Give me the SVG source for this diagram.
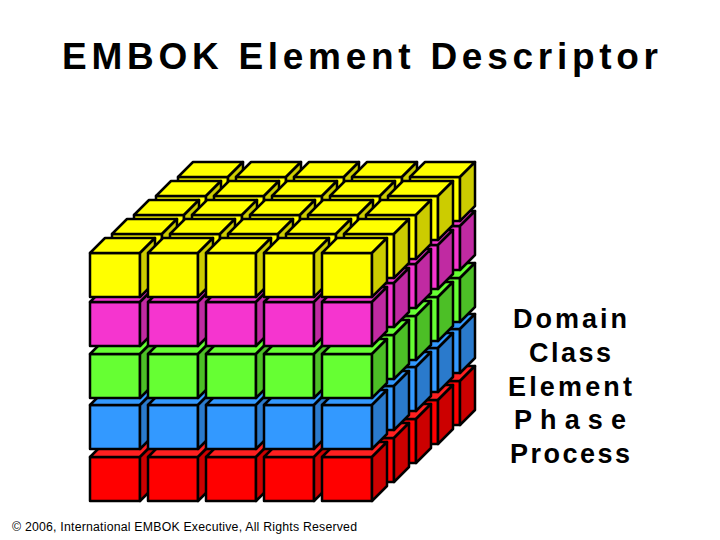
<svg xmlns="http://www.w3.org/2000/svg" width="720" height="540" viewBox="0 0 720 540">
<style>
.c{stroke:#000;stroke-width:2.5;stroke-linejoin:round}
.t{font-family:"Liberation Sans",Arial,sans-serif;font-weight:bold;text-anchor:middle}
</style>
<defs>
<g id="cy" class="c"><rect width="50" height="44" fill="#FFFF00"/><polygon points="0,0 15,-15 65,-15 50,0" fill="#FFFF00"/><polygon points="50,0 65,-15 65,29 50,44" fill="#CCCC00"/></g>
<g id="cm" class="c"><rect width="50" height="44" fill="#F535CF"/><polygon points="0,0 15,-15 65,-15 50,0" fill="#F535CF"/><polygon points="50,0 65,-15 65,29 50,44" fill="#C02AA2"/></g>
<g id="cg" class="c"><rect width="50" height="44" fill="#66FF33"/><polygon points="0,0 15,-15 65,-15 50,0" fill="#66FF33"/><polygon points="50,0 65,-15 65,29 50,44" fill="#4CBF26"/></g>
<g id="cb" class="c"><rect width="50" height="44" fill="#3399FF"/><polygon points="0,0 15,-15 65,-15 50,0" fill="#3399FF"/><polygon points="50,0 65,-15 65,29 50,44" fill="#2A7ACC"/></g>
<g id="cr" class="c"><rect width="50" height="44" fill="#FF0000"/><polygon points="0,0 15,-15 65,-15 50,0" fill="#FF2020"/><polygon points="50,0 65,-15 65,29 50,44" fill="#CC0000"/></g>
<g id="ry"><use href="#cy"/><use href="#cy" x="58"/><use href="#cy" x="116"/><use href="#cy" x="174"/><use href="#cy" x="232"/></g>
<g id="rm"><use href="#cm"/><use href="#cm" x="58"/><use href="#cm" x="116"/><use href="#cm" x="174"/><use href="#cm" x="232"/></g>
<g id="rg"><use href="#cg"/><use href="#cg" x="58"/><use href="#cg" x="116"/><use href="#cg" x="174"/><use href="#cg" x="232"/></g>
<g id="rb"><use href="#cb"/><use href="#cb" x="58"/><use href="#cb" x="116"/><use href="#cb" x="174"/><use href="#cb" x="232"/></g>
<g id="rr"><use href="#cr"/><use href="#cr" x="58"/><use href="#cr" x="116"/><use href="#cr" x="174"/><use href="#cr" x="232"/></g>
</defs>
<rect width="720" height="540" fill="#fff"/>
<text class="t" x="360" y="69" font-size="37" textLength="596" lengthAdjust="spacing">EMBOK Element Descriptor</text>
<g id="cubes">
<use href="#rr" x="178" y="381"/><use href="#rb" x="178" y="329"/><use href="#rg" x="178" y="278"/><use href="#rm" x="178" y="226"/><use href="#ry" x="178" y="177"/>
<use href="#rr" x="156" y="400"/><use href="#rb" x="156" y="348"/><use href="#rg" x="156" y="297"/><use href="#rm" x="156" y="245"/><use href="#ry" x="156" y="196"/>
<use href="#rr" x="134" y="419"/><use href="#rb" x="134" y="367"/><use href="#rg" x="134" y="316"/><use href="#rm" x="134" y="264"/><use href="#ry" x="134" y="215"/>
<use href="#rr" x="112" y="438"/><use href="#rb" x="112" y="386"/><use href="#rg" x="112" y="335"/><use href="#rm" x="112" y="283"/><use href="#ry" x="112" y="234"/>
<use href="#rr" x="90" y="457"/><use href="#rb" x="90" y="405"/><use href="#rg" x="90" y="354"/><use href="#rm" x="90" y="302"/><use href="#ry" x="90" y="253"/>
</g>
<g id="labels" class="t" font-size="27">
<text x="570" y="328" textLength="114" lengthAdjust="spacing">Domain</text>
<text x="570" y="362" textLength="82" lengthAdjust="spacing">Class</text>
<text x="570" y="396" textLength="124" lengthAdjust="spacing">Element</text>
<text x="570" y="429" textLength="112" lengthAdjust="spacing">Phase</text>
<text x="570" y="463" textLength="120" lengthAdjust="spacing">Process</text>
</g>
<text x="12" y="531" font-family="Liberation Sans,Arial,sans-serif" font-size="12.3" textLength="345" lengthAdjust="spacing">© 2006, International EMBOK Executive, All Rights Reserved</text>
</svg>
